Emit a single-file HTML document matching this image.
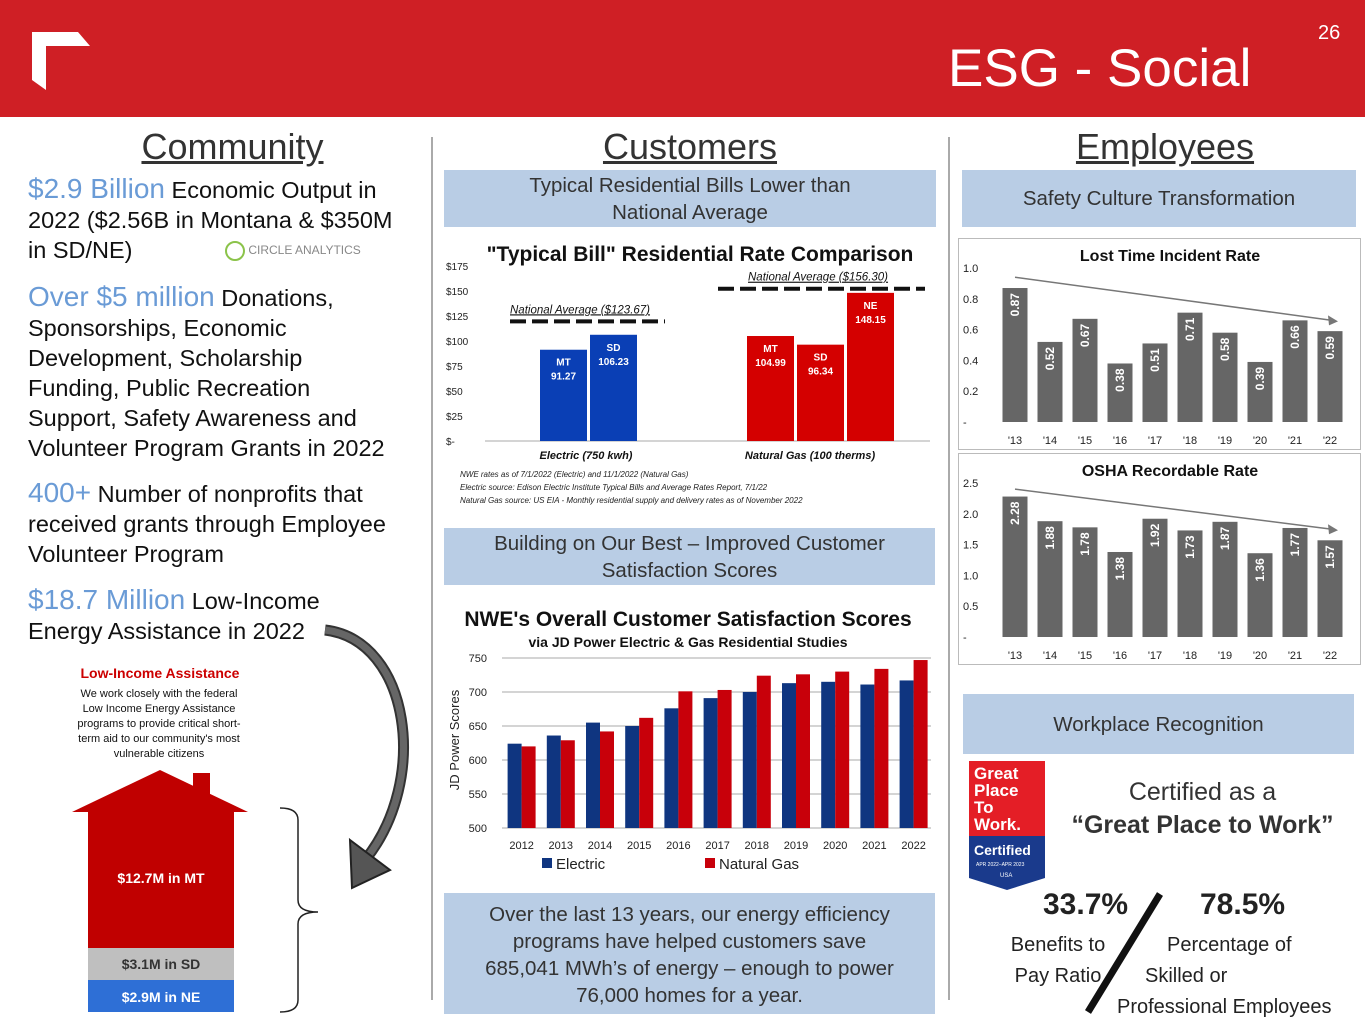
<!DOCTYPE html>
<html><head><meta charset="utf-8">
<style>
body{margin:0;width:1365px;height:1024px;position:relative;overflow:hidden;background:#fff;font-family:"Liberation Sans",sans-serif;color:#111}
.a{position:absolute}
.hd{font-size:36px;text-decoration:underline;color:#333;text-align:center}
.box{background:#b9cde5;color:#333;text-align:center;font-size:20.5px;line-height:27px;position:absolute;box-sizing:border-box}
.lt{font-size:23.5px;line-height:30px;color:#111}
.lt b{font-weight:normal;color:#6a9bd6;font-size:28px}
</style></head><body>
<div class="a" style="left:0;top:0;width:1365px;height:117px;background:#cf1f25"></div>
<svg class="a" style="left:30px;top:30px" width="62" height="62"><polygon points="2,2 48,2 60,16 16,16 16,60 2,50" fill="#fff"/></svg>
<div class="a" style="left:948px;top:38px;font-size:53px;color:#fff">ESG - Social</div>
<div class="a" style="left:1318px;top:22px;font-size:20px;color:#fff">26</div>

<div class="a" style="left:431px;top:137px;width:2px;height:863px;background:#aaa"></div>
<div class="a" style="left:948px;top:137px;width:2px;height:863px;background:#aaa"></div>

<div class="a hd" style="left:100px;top:126px;width:265px">Community</div>
<div class="a hd" style="left:560px;top:126px;width:260px">Customers</div>
<div class="a hd" style="left:1035px;top:126px;width:260px">Employees</div>

<div class="a lt" style="left:28px;top:174px;width:386px"><b>$2.9 Billion</b> Economic Output in 2022 ($2.56B in Montana &amp; $350M in SD/NE)</div>
<div class="a" style="left:225px;top:241px;font-size:12px;color:#888"><span style="display:inline-block;width:16px;height:16px;border:2px solid #8bc34a;border-radius:50%;vertical-align:middle"></span> CIRCLE ANALYTICS</div>
<div class="a lt" style="left:28px;top:282px;width:368px"><b>Over $5 million</b> Donations, Sponsorships, Economic Development, Scholarship Funding, Public Recreation Support, Safety Awareness and Volunteer Program Grants in 2022</div>
<div class="a lt" style="left:28px;top:478px;width:390px"><b>400+</b> Number of nonprofits that received grants through Employee Volunteer Program</div>
<div class="a lt" style="left:28px;top:585px;width:340px"><b>$18.7 Million</b> Low-Income Energy Assistance in 2022</div>

<div class="a" style="left:60px;top:665px;width:200px;text-align:center;color:#c00;font-weight:bold;font-size:14px">Low-Income Assistance</div>
<div class="a" style="left:70px;top:687px;width:178px;text-align:center;font-size:11px;line-height:15px">We work closely with the federal Low Income Energy Assistance programs to provide critical short-term aid to our community's most vulnerable citizens</div>
<svg class="a" style="left:0;top:760px" width="330" height="264">
<polygon points="72,52 160,10 248,52" fill="#c00000"/>
<rect x="193" y="13" width="17" height="30" fill="#c00000"/>
<rect x="88" y="52" width="146" height="136" fill="#c00000"/>
<rect x="88" y="188" width="146" height="32" fill="#bfbfbf"/>
<rect x="88" y="220" width="146" height="32" fill="#2e6fd6"/>
<text x="161" y="123" fill="#fff" font-size="14" font-weight="bold" text-anchor="middle">$12.7M in MT</text>
<text x="161" y="209" fill="#333" font-size="14" font-weight="bold" text-anchor="middle">$3.1M in SD</text>
<text x="161" y="242" fill="#fff" font-size="14" font-weight="bold" text-anchor="middle">$2.9M in NE</text>
<path d="M280,48 Q298,48 298,60 L298,140 Q298,152 318,152 Q298,152 298,164 L298,240 Q298,252 280,252" fill="none" stroke="#222" stroke-width="1.5"/>
</svg>
<svg class="a" style="left:320px;top:620px" width="100" height="280">
<path d="M5,10 C90,20 110,160 45,240" fill="none" stroke="#333" stroke-width="11"/>
<path d="M5,10 C90,20 110,160 45,240" fill="none" stroke="#666" stroke-width="7"/>
<polygon points="30,220 70,250 32,268" fill="#555" stroke="#222" stroke-width="2"/>
</svg>

<div class="box" style="left:444px;top:170px;width:492px;height:57px;padding:2px 60px 0">Typical Residential Bills Lower than National Average</div>
<svg class="a" id="bill" style="left:440px;top:235px" width="500" height="275"></svg>

<div class="box" style="left:444px;top:528px;width:491px;height:57px;padding:2px 20px 0">Building on Our Best – Improved Customer Satisfaction Scores</div>
<svg class="a" id="sat" style="left:440px;top:600px" width="500" height="280"></svg>

<div class="box" style="left:444px;top:893px;width:491px;height:121px;padding:8px 4px 0">Over the last 13 years, our energy efficiency<br>programs have helped customers save<br>685,041 MWh’s of energy – enough to power<br>76,000 homes for a year.</div>

<div class="box" style="left:962px;top:170px;width:394px;height:57px;line-height:57px">Safety Culture Transformation</div>
<svg class="a" id="ltir" style="left:958px;top:238px" width="403" height="212"></svg>
<svg class="a" id="osha" style="left:958px;top:453px" width="403" height="212"></svg>

<div class="box" style="left:963px;top:694px;width:391px;height:60px;line-height:62px">Workplace Recognition</div>
<svg class="a" style="left:968px;top:760px" width="80" height="132">
<rect x="1" y="1" width="76" height="104" fill="#e41e26"/>
<text x="6" y="19" fill="#fff" font-size="17" font-weight="bold">Great</text>
<text x="6" y="36" fill="#fff" font-size="17" font-weight="bold">Place</text>
<text x="6" y="53" fill="#fff" font-size="17" font-weight="bold">To</text>
<text x="6" y="70" fill="#fff" font-size="17" font-weight="bold">Work.</text>
<polygon points="1,76 77,76 77,118 39,130 1,118" fill="#1a3a8c"/>
<text x="6" y="95" fill="#fff" font-size="14" font-weight="bold">Certified</text>
<text x="8" y="106" fill="#fff" font-size="5">APR 2022–APR 2023</text>
<text x="32" y="117" fill="#fff" font-size="6">USA</text>
</svg>
<div class="a" style="left:1055px;top:776px;width:295px;text-align:center;font-size:25px;line-height:33px;color:#333">Certified as a<br><b>“Great Place to Work”</b></div>
<div class="a" style="left:1043px;top:888px;font-size:30px;font-weight:bold;color:#222">33.7%</div>
<div class="a" style="left:998px;top:930px;font-size:20px;line-height:31px;color:#222;text-align:center;width:120px">Benefits to<br>Pay Ratio</div>
<div class="a" style="left:1200px;top:888px;font-size:30px;font-weight:bold;color:#222">78.5%</div>
<div class="a" style="left:1117px;top:930px;font-size:20px;line-height:31px;color:#222;width:245px"><span style="padding-left:50px">Percentage of</span><br><span style="padding-left:28px">Skilled or</span><br>Professional Employees</div>
<svg class="a" style="left:1080px;top:890px" width="90" height="130"><line x1="8" y1="122" x2="80" y2="4" stroke="#111" stroke-width="7"/></svg>

<script>
const NS="http://www.w3.org/2000/svg";
function mk(svg,tag,at,txt){const e=document.createElementNS(NS,tag);for(const k in at)e.setAttribute(k,at[k]);if(txt!==undefined)e.textContent=txt;svg.appendChild(e);return e;}

// Bill chart data
const billLabels=["MT","SD","MT","SD","NE"];
const billValues=[91.27,106.23,104.99,96.34,148.15];
const billGroups=[0,0,1,1,1];
const billTicks=[0,25,50,75,100,125,150,175];
const natAvg=[123.67,156.30];
const billCats=["Electric (750 kwh)","Natural Gas (100 therms)"];
(function(){
 const s=document.getElementById('bill');
 const y=v=>206-v*1.0;
 mk(s,'text',{x:260,y:26,'font-size':21,'font-weight':'bold','text-anchor':'middle',fill:'#111'},'"Typical Bill" Residential Rate Comparison');
 billTicks.forEach(t=>{const tx=mk(s,'text',{x:6,y:y(t)+4,'font-size':10,fill:'#222'},t===0?'$-':'$'+t);
  });
 mk(s,'line',{x1:45,y1:y(0),x2:490,y2:y(0),stroke:'#aaa'});
 const gx=[100,307],bw=47,gap=3;
 let idx=[0,0];
 billValues.forEach((v,i)=>{const g=billGroups[i];const x=gx[g]+idx[g]*(bw+gap);idx[g]++;
  const r=mk(s,'rect',{x:x,y:y(v),width:bw,height:y(0)-y(v),fill:g?'#d40000':'#0a3fb5'});
  
  mk(s,'text',{x:x+bw/2,y:y(v)+16,'font-size':10,'font-weight':'bold',fill:'#fff','text-anchor':'middle'},billLabels[i]);
  mk(s,'text',{x:x+bw/2,y:y(v)+30,'font-size':10,'font-weight':'bold',fill:'#fff','text-anchor':'middle'},v.toFixed(2));});
 billCats.forEach((c,i)=>mk(s,'text',{x:[146,370][i],y:224,'font-size':11,'font-weight':'bold','font-style':'italic','text-anchor':'middle',fill:'#111'},c));
 const nx=[[70,225],[278,485]];
 natAvg.forEach((v,i)=>{const l=mk(s,'line',{x1:nx[i][0],y1:y(v)+4,x2:nx[i][1],y2:y(v)+4,stroke:'#111','stroke-width':4,'stroke-dasharray':'16,6'});
  
  mk(s,'text',{x:i?308:70,y:y(v)-4,'font-size':11.5,'font-style':'italic',fill:'#111','text-decoration':'underline'},'National Average ($'+v.toFixed(2)+')');});
 ['NWE rates as of 7/1/2022 (Electric) and 11/1/2022 (Natural Gas)','Electric source:  Edison Electric Institute Typical Bills and Average Rates Report, 7/1/22','Natural Gas source:  US EIA - Monthly residential supply and delivery rates as of November 2022']
 .forEach((t,i)=>mk(s,'text',{x:20,y:242+i*13,'font-size':8,'font-style':'italic',fill:'#222'},t));
})();

// Satisfaction chart data
const satYears=["2012","2013","2014","2015","2016","2017","2018","2019","2020","2021","2022"];
const satElectric=[624,636,655,650,676,691,700,713,715,711,717];
const satGas=[620,629,642,662,701,703,724,726,730,734,747];
const satTicks=[500,550,600,650,700,750];
(function(){
 const s=document.getElementById('sat');
 const y=v=>228-(v-500)*0.68;
 const x0=62,step=39.2;
 mk(s,'text',{x:248,y:26,'font-size':21,'font-weight':'bold','text-anchor':'middle',fill:'#111'},"NWE's Overall Customer Satisfaction Scores");
 mk(s,'text',{x:248,y:47,'font-size':14,'font-weight':'bold','text-anchor':'middle',fill:'#111'},'via JD Power Electric & Gas Residential Studies');
 satTicks.forEach(t=>{mk(s,'line',{x1:x0,y1:y(t),x2:491,y2:y(t),stroke:'#aaa'});
  const tx=mk(s,'text',{x:47,y:y(t)+4,'font-size':11,'text-anchor':'end',fill:'#222'},t);
  });
 mk(s,'text',{x:0,y:0,'font-size':13,'text-anchor':'middle',fill:'#222',transform:'translate(19,140) rotate(-90)'},'JD Power Scores');
 satYears.forEach((yr,i)=>{const cx=x0+step*(i+0.5);
  const r1=mk(s,'rect',{x:cx-14,y:y(satElectric[i]),width:14,height:y(500)-y(satElectric[i]),fill:'#0f3580'});
  
  const r2=mk(s,'rect',{x:cx,y:y(satGas[i]),width:14,height:y(500)-y(satGas[i]),fill:'#c8000a'});
  
  mk(s,'text',{x:cx,y:249,'font-size':11,'text-anchor':'middle',fill:'#222'},yr);});
 mk(s,'rect',{x:102,y:258,width:10,height:10,fill:'#0f3580'});
 mk(s,'text',{x:116,y:269,'font-size':15,fill:'#222'},'Electric');
 mk(s,'rect',{x:265,y:258,width:10,height:10,fill:'#c8000a'});
 mk(s,'text',{x:279,y:269,'font-size':15,fill:'#222'},'Natural Gas');
})();

// Safety charts data
const safetyYears=["'13","'14","'15","'16","'17","'18","'19","'20","'21","'22"];
const ltirValues=[0.87,0.52,0.67,0.38,0.51,0.71,0.58,0.39,0.66,0.59];
const ltirTicks=[0,0.2,0.4,0.6,0.8,1.0];
const oshaValues=[2.28,1.88,1.78,1.38,1.92,1.73,1.87,1.36,1.77,1.57];
const oshaTicks=[0,0.5,1.0,1.5,2.0,2.5];
function safety(id,title,vals,ticks,top,scale,arrow,fmt){
 const s=document.getElementById(id);
 const y=v=>184-v*scale;
 mk(s,'rect',{x:0.5,y:0.5,width:402,height:211,fill:'#fff',stroke:'#bbb'});
 mk(s,'text',{x:212,y:23,'font-size':16,'font-weight':'bold','text-anchor':'middle',fill:'#111'},title);
 ticks.forEach(t=>{const tx=mk(s,'text',{x:5,y:y(t)+4,'font-size':11,fill:'#222'},t===0?' -':fmt(t));
  });
 vals.forEach((v,i)=>{const cx=57+i*35;
  const r=mk(s,'rect',{x:cx-12.5,y:y(v),width:25,height:y(0)-y(v),fill:'#666'});
  
  mk(s,'text',{x:0,y:0,'font-size':12,'font-weight':'bold',fill:'#fff','text-anchor':'end',transform:'translate('+(cx+4)+','+(y(v)+5)+') rotate(-90)'},v.toFixed(2));
  mk(s,'text',{x:cx,y:206,'font-size':11,'text-anchor':'middle',fill:'#222'},safetyYears[i]);});
 mk(s,'line',{x1:57,y1:y(arrow[0]),x2:374,y2:y(arrow[1]),stroke:'#777','stroke-width':1.5});
 mk(s,'polygon',{points:(380)+','+(y(arrow[1])+1)+' 370,'+(y(arrow[1])-5)+' 371,'+(y(arrow[1])+5),fill:'#777'});
}
safety('ltir','Lost Time Incident Rate',ltirValues,ltirTicks,0,154,[0.94,0.66],t=>t.toFixed(1));
safety('osha','OSHA Recordable Rate',oshaValues,oshaTicks,0,61.6,[2.4,1.75],t=>t.toFixed(1));
</script>
</body></html>
